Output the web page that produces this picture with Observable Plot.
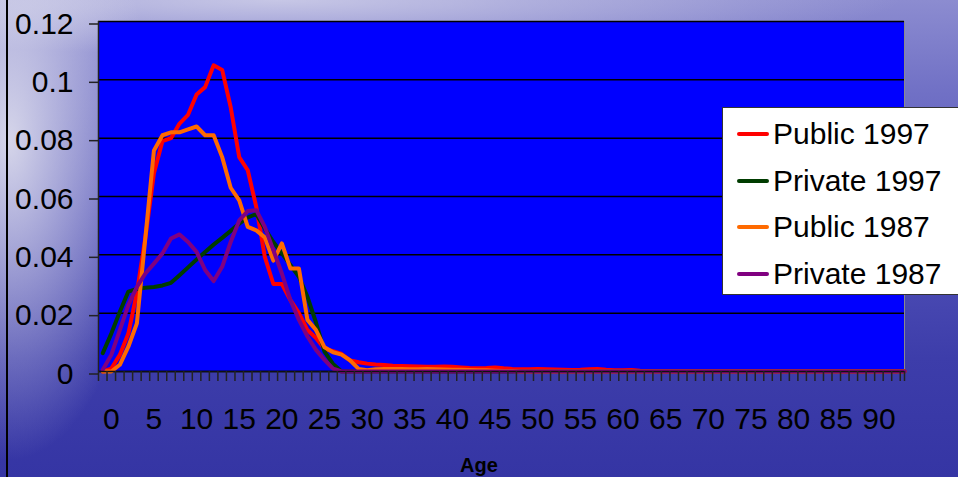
<!DOCTYPE html>
<html>
<head>
<meta charset="utf-8">
<script src="https://cdn.jsdelivr.net/npm/d3@7"></script>
<script src="https://cdn.jsdelivr.net/npm/@observablehq/plot@0.6"></script>
<style>
  html, body { margin: 0; padding: 0; overflow: hidden; }
  #wrap {
    position: relative; width: 958px; height: 477px; overflow: hidden;
    font-family: "Liberation Sans", Arial, sans-serif;
    background:
      radial-gradient(ellipse 140px 320px at 10px 140px, rgba(225,225,238,0.9), rgba(225,225,238,0) 100%),
      radial-gradient(ellipse 620px 55px at 280px 0px, rgba(205,205,232,0.9), rgba(205,205,232,0) 100%),
      linear-gradient(180deg, #8c8cd0 0%, #7272c6 18%, #5555b9 45%, #3d3daa 75%, #3535a4 100%);
  }
  #frameline { position: absolute; left: 6px; top: 0; width: 2px; height: 477px; background: #000; }
  #legend {
    position: absolute; left: 722px; top: 107px; width: 250px; height: 188px;
    background: #fff; border: 1px solid #333; box-sizing: border-box;
  }
  .lg { position: absolute; left: 0; height: 40px; display: flex; align-items: center; }
  .lg .sw { width: 32px; height: 4px; margin-left: 14px; border-radius: 2px; }
  .lg .tx { margin-left: 4px; font-size: 30px; color: #000; line-height: 40px; white-space: nowrap; }
  #xlabel { position: absolute; left: 0; width: 958px; top: 455px; text-align: center;
    font-weight: bold; font-size: 20px; line-height: 20px; color: #000; }
</style>
</head>
<body>
<div id="wrap">
  <div id="frameline"></div>
  <div id="chart"></div>
  <div id="legend"></div>
  <div id="xlabel">Age</div>
</div>
<script>
// Categories: ages (one point per year of age)
const ages = d3.range(-1, 94);

// Series values (share of workers at each age)
const public1997 = [
  0, 0.001, 0.0057, 0.013, 0.027, 0.046, 0.068, 0.079, 0.080, 0.085,
  0.088, 0.095, 0.0975, 0.105, 0.1034, 0.0906, 0.0735, 0.069, 0.0564, 0.0393,
  0.030, 0.030, 0.0245, 0.020, 0.0142, 0.0115, 0.0078, 0.0070, 0.0060, 0.0038,
  0.0032, 0.0027, 0.0024, 0.0022, 0.0020, 0.0019, 0.0018, 0.0017, 0.0016, 0.0016,
  0.0017, 0.0016, 0.0014, 0.0012, 0.0011, 0.0012, 0.0014, 0.0011, 0.0009, 0.0008,
  0.0008, 0.0009, 0.0008, 0.0007, 0.0006, 0.0005, 0.0006, 0.0008, 0.0009, 0.0006,
  0.0004, 0.0004, 0.0005, 0.0003, 0.0002, 0.0001, 0.0001, 0.0001, 0.0001, 0.0001,
  0.0001, 0.0001, 0.0001, 0.0001, 0.0001, 0.0001, 0.0001, 0.0001, 0.0001, 0.0001,
  0.0001, 0.0001, 0.0001, 0.0001, 0.0001, 0.0001, 0.0001, 0.0001, 0.0001, 0.0001,
  0.0001, 0.0001, 0.0001, 0.0001, 0.0001
];
const private1997 = [
  0.0063, 0.013, 0.0205, 0.0274, 0.0283, 0.0287, 0.029, 0.0295, 0.0304, 0.033,
  0.0357, 0.0384, 0.041, 0.0435, 0.0458, 0.0482, 0.0507, 0.0528, 0.054, 0.049,
  0.0444, 0.0405, 0.0365, 0.0325, 0.0256, 0.0168, 0.0068, 0.0026, 0, 0,
  0, 0, 0, 0, 0, 0, 0, 0, 0, 0,
  0, 0, 0, 0, 0, 0, 0, 0, 0, 0,
  0, 0, 0, 0, 0, 0, 0, 0, 0, 0,
  0, 0, 0, 0, 0, 0, 0, 0, 0, 0,
  0, 0, 0, 0, 0, 0, 0, 0, 0, 0,
  0, 0, 0, 0, 0, 0, 0, 0, 0, 0,
  0, 0, 0, 0, 0
];
const public1987 = [
  0, 0, 0.0023, 0.0085, 0.0165, 0.046, 0.0758, 0.081, 0.082, 0.082,
  0.083, 0.084, 0.081, 0.081, 0.0735, 0.063, 0.0587, 0.0496, 0.0484, 0.046,
  0.038, 0.0439, 0.0353, 0.0353, 0.0177, 0.0142, 0.0083, 0.0066, 0.0058, 0.0038,
  0.0009, 0.0004, 0.0008, 0.0009, 0.0009, 0.0009, 0.0008, 0.0008, 0.0009, 0.0008,
  0.0007, 0.0006, 0.0006, 0.0005, 0.0004, 0.0004, 0.0003, 0.0002, 0.0002, 0,
  0, 0, 0, 0, 0, 0, 0, 0, 0, 0,
  0, 0, 0, 0, 0, 0, 0, 0, 0, 0,
  0, 0, 0, 0, 0, 0, 0, 0, 0, 0,
  0, 0, 0, 0, 0, 0, 0, 0, 0, 0,
  0, 0, 0, 0, 0
];
const private1987 = [
  0.0006, 0.0057, 0.0142, 0.0228, 0.029, 0.0336, 0.037, 0.0405, 0.0456, 0.047,
  0.0444, 0.041, 0.0348, 0.031, 0.0359, 0.0444, 0.0518, 0.055, 0.0553, 0.0496,
  0.0416, 0.0336, 0.0245, 0.0177, 0.012, 0.0074, 0.004, 0.001, 0, 0,
  0, 0, 0, 0, 0, 0, 0, 0, 0, 0,
  0, 0, 0, 0, 0, 0, 0, 0, 0, 0,
  0, 0, 0, 0, 0, 0, 0, 0, 0, 0,
  0, 0, 0, 0, 0, 0, 0, 0, 0, 0,
  0, 0, 0, 0, 0, 0, 0, 0, 0, 0,
  0, 0, 0, 0, 0, 0, 0, 0, 0, 0,
  0, 0, 0, 0, 0
];

const seriesNames = ["Public 1997", "Private 1997", "Public 1987", "Private 1987"];
const seriesColors = ["#ff0000", "#003c00", "#ff6a00", "#800080"];
const seriesValues = [public1997, private1997, public1987, private1987];

// Tick labels
const xTicks = [0, 5, 10, 15, 20, 25, 30, 35, 40, 45, 50, 55, 60, 65, 70, 75, 80, 85, 90];
const xTickLabels = ["0","5","10","15","20","25","30","35","40","45","50","55","60","65","70","75","80","85","90"];
const yTicks = [0, 0.02, 0.04, 0.06, 0.08, 0.1, 0.12];
const yTickLabels = ["0", "0.02", "0.04", "0.06", "0.08", "0.1", "0.12"];

// Category boundary tick marks
const xBoundaries = ages.map(a => a - 0.5).concat([93]);

const rows = seriesNames.flatMap((name, s) =>
  ages.map((age, i) => ({series: name, age, value: seriesValues[s][i]})));

const lineMarks = seriesNames.map((name, s) =>
  Plot.line(rows.filter(d => d.series === name), {
    x: "age", y: "value", stroke: seriesColors[s], strokeWidth: 4,
    strokeLinejoin: "round", strokeLinecap: "round"
  }));

const chart = Plot.plot({
  width: 958,
  height: 477,
  marginLeft: 98,
  marginRight: 54,
  marginTop: 21,
  marginBottom: 106,
  style: {background: "transparent", fontFamily: "Liberation Sans, Arial, sans-serif", color: "#000", overflow: "visible"},
  x: {domain: [-1.5, 93], label: null},
  y: {domain: [0, 0.12], label: null},
  marks: [
    Plot.frame({fill: "#0000ff", stroke: null}),
    Plot.ruleY(yTicks, {stroke: "#000", strokeWidth: 1.5}),
    Plot.ruleX([93], {stroke: "#8a8a8a", strokeWidth: 1}),
    ...lineMarks,
    Plot.ruleX([-1.5], {stroke: "#222", strokeWidth: 1.5}),
    Plot.ruleY([0], {stroke: "#111", strokeWidth: 1.5}),
    Plot.axisY(yTicks, {
      tickSize: 9, tickPadding: 16, stroke: "#222", strokeWidth: 1.5,
      fontSize: 30, dy: 2.5, fill: "#000", label: null,
      tickFormat: d => yTickLabels[yTicks.indexOf(d)]
    }),
    Plot.axisX(xBoundaries, {
      tickSize: 10, stroke: "#222", strokeWidth: 1.5, label: null, tickFormat: () => ""
    }),
    Plot.axisX(xTicks, {
      tickSize: 0, tickPadding: 36, fontSize: 30, fill: "#000", label: null,
      tickFormat: d => xTickLabels[xTicks.indexOf(d)]
    })
  ]
});
document.getElementById("chart").appendChild(chart);

// Legend
const legend = document.getElementById("legend");
seriesNames.forEach((name, s) => {
  const row = document.createElement("div");
  row.className = "lg";
  row.style.top = (6 + s * 46.7) + "px";
  const sw = document.createElement("div");
  sw.className = "sw";
  sw.style.background = seriesColors[s];
  const tx = document.createElement("div");
  tx.className = "tx";
  tx.textContent = name;
  row.appendChild(sw);
  row.appendChild(tx);
  legend.appendChild(row);
});
</script>
</body>
</html>
